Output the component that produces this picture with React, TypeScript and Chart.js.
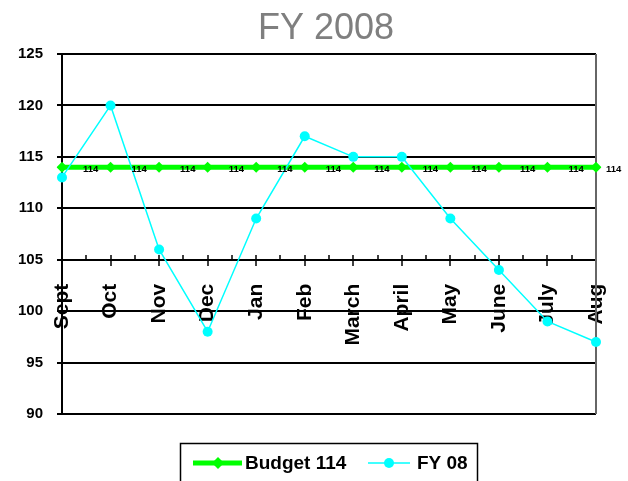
import React, { useEffect, useRef } from 'react';
import { Chart, registerables } from 'chart.js';

Chart.register(...registerables);

const months = ['Sept', 'Oct', 'Nov', 'Dec', 'Jan', 'Feb', 'March', 'April', 'May', 'June', 'July', 'Aug'];
const budget = [114, 114, 114, 114, 114, 114, 114, 114, 114, 114, 114, 114];
const fy08 = [113, 120, 106, 98, 109, 117, 115, 115, 109, 104, 99, 97];
const yMin = 90;
const yMax = 125;
const yStep = 5;
const axisCross = 105;
const titleText = 'FY 2008';
const budgetLabel = 'Budget 114';
const fyLabel = 'FY 08';

const FONT = '"Liberation Sans", Arial, Helvetica, sans-serif';
const GREEN = '#00ff00';
const CYAN = '#00ffff';

const titlePlugin = {
  id: 'customTitle',
  afterDraw(chart: any) {
    const ctx = chart.ctx;
    ctx.save();
    ctx.font = `normal 36px ${FONT}`;
    ctx.fillStyle = '#7f7f7f';
    ctx.textAlign = 'center';
    ctx.textBaseline = 'alphabetic';
    ctx.fillText(titleText, 326, 39);
    ctx.restore();
  },
};

const framePlugin = {
  id: 'frame',
  beforeDatasetsDraw(chart: any) {
    const ctx = chart.ctx;
    const { right, top, bottom } = chart.chartArea;
    const xs = chart.scales.x;
    const ys = chart.scales.y;
    const yc = Math.round(ys.getPixelForValue(axisCross));
    ctx.save();
    ctx.strokeStyle = '#000';
    ctx.lineWidth = 1.5;
    const n = months.length;
    for (let i = 0; i < n; i++) {
      const x = Math.round(xs.getPixelForValue(i));
      ctx.beginPath();
      ctx.moveTo(x, yc - 5);
      ctx.lineTo(x, yc + 6);
      ctx.stroke();
      if (i < n - 1) {
        const xm = Math.round((xs.getPixelForValue(i) + xs.getPixelForValue(i + 1)) / 2);
        ctx.beginPath();
        ctx.moveTo(xm, yc - 5);
        ctx.lineTo(xm, yc);
        ctx.stroke();
      }
    }
    ctx.strokeStyle = '#666';
    ctx.lineWidth = 2;
    ctx.beginPath();
    ctx.moveTo(right, top);
    ctx.lineTo(right, bottom);
    ctx.stroke();
    ctx.restore();
  },
};

const labelPlugin = {
  id: 'budgetLabels',
  afterDatasetsDraw(chart: any) {
    const ctx = chart.ctx;
    const meta = chart.getDatasetMeta(0);
    ctx.save();
    ctx.font = `bold 9.5px ${FONT}`;
    ctx.fillStyle = '#000';
    ctx.textAlign = 'left';
    ctx.textBaseline = 'middle';
    meta.data.forEach((pt: any, i: number) => {
      const off = i === meta.data.length - 1 ? 10 : 21;
      ctx.fillText(String(budget[i]), pt.x + off, pt.y + 2);
    });
    ctx.restore();
  },
};

const legendPlugin = {
  id: 'customLegend',
  afterDraw(chart: any) {
    const ctx = chart.ctx;
    ctx.save();
    ctx.strokeStyle = '#000';
    ctx.lineWidth = 1.5;
    ctx.strokeRect(180.5, 443.5, 297, 50);
    const cy = 463;
    ctx.strokeStyle = GREEN;
    ctx.lineWidth = 5;
    ctx.beginPath();
    ctx.moveTo(193, cy);
    ctx.lineTo(242, cy);
    ctx.stroke();
    ctx.fillStyle = GREEN;
    ctx.beginPath();
    ctx.moveTo(218, cy - 6);
    ctx.lineTo(224, cy);
    ctx.lineTo(218, cy + 6);
    ctx.lineTo(212, cy);
    ctx.closePath();
    ctx.fill();
    ctx.strokeStyle = CYAN;
    ctx.lineWidth = 1.5;
    ctx.beginPath();
    ctx.moveTo(368, cy);
    ctx.lineTo(410, cy);
    ctx.stroke();
    ctx.fillStyle = CYAN;
    ctx.beginPath();
    ctx.arc(389, cy, 5, 0, Math.PI * 2);
    ctx.fill();
    ctx.fillStyle = '#000';
    ctx.font = `bold 19px ${FONT}`;
    ctx.textAlign = 'left';
    ctx.textBaseline = 'middle';
    ctx.fillText(budgetLabel, 245, cy + 1);
    ctx.fillText(fyLabel, 417, cy + 1);
    ctx.restore();
  },
};

export default function App() {
  const ref = useRef<HTMLCanvasElement | null>(null);
  useEffect(() => {
    if (!ref.current) return;
    Chart.defaults.font.family = FONT;
    const chart = new Chart(ref.current, {
      type: 'line',
      data: {
        labels: months,
        datasets: [
          {
            label: budgetLabel,
            data: budget,
            borderColor: GREEN,
            backgroundColor: GREEN,
            borderWidth: 5,
            pointStyle: 'rectRot',
            pointRadius: 5.5,
            pointBorderWidth: 0,
            pointBackgroundColor: GREEN,
            order: 2,
          },
          {
            label: fyLabel,
            data: fy08,
            borderColor: CYAN,
            backgroundColor: CYAN,
            borderWidth: 1.5,
            pointStyle: 'circle',
            pointRadius: 5,
            pointBorderWidth: 0,
            pointBackgroundColor: CYAN,
            order: 1,
          },
        ],
      },
      options: {
        responsive: false,
        animation: false,
        layout: { padding: { left: 0, right: 32, top: 54, bottom: 67 } },
        plugins: {
          legend: { display: false },
          title: { display: false },
          tooltip: { enabled: false },
        },
        scales: {
          x: {
            type: 'category',
            position: { y: axisCross } as any,
            offset: false,
            afterFit: (scale: any) => {
              scale.paddingLeft = 0;
              scale.paddingRight = 0;
              scale.paddingTop = 0;
              scale.paddingBottom = 0;
            },
            grid: { display: true, drawOnChartArea: false, drawTicks: false, tickLength: 0 },
            border: { display: true, color: '#000', width: 2 },
            ticks: {
              autoSkip: false,
              minRotation: 90,
              maxRotation: 90,
              padding: 24,
              color: '#000',
              font: { size: 21, weight: 'bold', family: FONT },
            },
          },
          y: {
            min: yMin,
            max: yMax,
            afterFit: (scale: any) => {
              scale.width = 62;
            },
            grid: { color: '#000', lineWidth: 2, tickLength: 5, drawTicks: true },
            border: { display: true, color: '#000', width: 2 },
            ticks: {
              stepSize: yStep,
              padding: 14,
              color: '#000',
              font: { size: 15, weight: 'bold', family: FONT },
            },
          },
        },
      },
      plugins: [framePlugin, labelPlugin, titlePlugin, legendPlugin],
    });
    return () => chart.destroy();
  }, []);
  return (
    <div style={{ position: 'fixed', left: 0, top: 0, width: 628, height: 481, background: '#fff' }}>
      <canvas ref={ref} width={628} height={481} />
    </div>
  );
}
